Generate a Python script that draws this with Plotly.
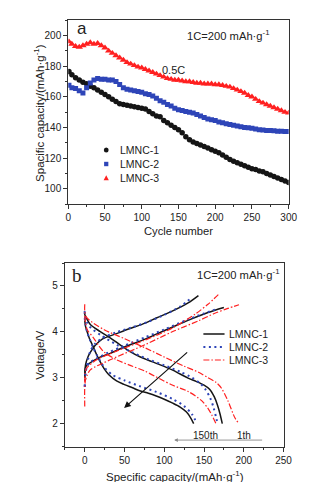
import plotly.graph_objects as go

# ---------------- Panel a data ----------------
cycles = [1] + list(range(5, 301, 5))
lmnc1_cap = [176.5, 174.5, 172.5, 171, 169.5, 168.5, 167, 166, 164.5, 163, 161.5, 160, 158.5, 157, 155.5,
             155, 154.5, 154, 153.5, 153, 152.5, 152, 150.5, 149, 147.5, 147, 144.5, 143, 141.5, 140,
             138.5, 136.5, 134, 132, 130.5, 129.5, 128.5, 127.5, 126.5, 125.5, 124.5, 123.5, 122, 120.5,
             119, 118, 117, 116, 115, 114, 113, 112.5, 111.5, 111, 110, 109, 108, 107, 106, 105, 104]
lmnc2_cap = [167.5, 166, 165.5, 164, 162.5, 166, 169, 171, 172, 171.5, 171.5, 171, 171, 170, 168, 166,
             165, 164.5, 164, 163.5, 163, 162, 161.5, 160.5, 159, 157.5, 156.5, 155, 154, 152.5, 151.5,
             151, 150.5, 150, 149.5, 148.5, 147.5, 146.5, 145.5, 145, 144.5, 143.5, 143, 142.5, 142,
             141.5, 141, 140.5, 140, 139.8, 139.5, 139, 138.5, 138.3, 138, 138, 137.8, 137.6, 137.5,
             137.4, 137.3]
lmnc3_cap = [196, 194.5, 193, 192.5, 193.5, 194.5, 195.5, 194.5, 195, 193.5, 192, 190, 188.5, 187, 185.5,
             184, 182.5, 181.5, 180.5, 179.5, 179, 178, 177, 176, 175, 174, 173, 172, 171.5, 171, 171,
             170.5, 170, 170, 169.5, 169, 169, 168.5, 168.5, 168.5, 168, 168, 167.5, 167, 166.5, 165.5,
             164.5, 163.5, 162.5, 161, 160, 158.5, 157, 156, 155, 154, 153, 152, 151, 150, 149.5]
series_names = ["LMNC-1", "LMNC-2", "LMNC-3"]

# ---------------- Panel b data (capacity, voltage) ----------------
l1_chg_a_x = [0, 1, 4, 7, 13, 22, 40, 55, 76, 90, 110, 130, 143]
l1_chg_a_y = [3.0, 3.28, 3.45, 3.55, 3.7, 3.84, 3.96, 4.06, 4.19, 4.30, 4.45, 4.63, 4.79]
l1_chg_b_x = [0, 1, 3, 10, 20, 32, 50, 76, 90, 110, 130, 155, 175]
l1_chg_b_y = [3.0, 3.22, 3.28, 3.36, 3.45, 3.53, 3.67, 3.84, 3.95, 4.1, 4.25, 4.42, 4.53]
l1_dis_1_x = [0, 0, 2, 7, 19, 32, 44, 56, 70, 80, 95, 110, 120, 130, 140, 150, 157, 163, 167, 170, 173]
l1_dis_1_y = [4.42, 4.38, 4.3, 4.16, 4.01, 3.87, 3.72, 3.58, 3.45, 3.38, 3.28, 3.17, 3.08, 2.99, 2.92,
              2.84, 2.75, 2.58, 2.4, 2.22, 2.0]
l1_dis_150_x = [0, 1, 3, 6, 10, 15, 20, 25, 30, 40, 50, 60, 70, 80, 90, 100, 110, 120, 128, 133, 137]
l1_dis_150_y = [4.25, 4.12, 4.0, 3.85, 3.7, 3.5, 3.33, 3.18, 3.07, 2.93, 2.85, 2.78, 2.71, 2.66, 2.6,
                2.53, 2.45, 2.36, 2.25, 2.13, 2.0]

l2_chg_a_x = [0, 1, 3, 7, 13, 23, 40, 60, 80, 100, 120, 135]
l2_chg_a_y = [2.8, 3.1, 3.3, 3.58, 3.74, 3.87, 3.99, 4.1, 4.22, 4.37, 4.55, 4.75]
l2_chg_b_x = [0, 1, 3, 8, 15, 30, 50, 76, 100, 130, 150, 165]
l2_chg_b_y = [2.8, 3.1, 3.25, 3.35, 3.42, 3.55, 3.7, 3.88, 4.05, 4.27, 4.4, 4.49]
l2_dis_1_x = [0, 0, 3, 8, 20, 40, 60, 80, 100, 120, 135, 145, 152, 158, 162, 165, 167]
l2_dis_1_y = [4.45, 4.35, 4.2, 4.08, 3.93, 3.72, 3.55, 3.4, 3.27, 3.13, 3.0, 2.88, 2.74, 2.55, 2.35,
              2.15, 2.0]
l2_dis_150_x = [0, 1, 3, 6, 10, 15, 25, 35, 50, 70, 90, 110, 125, 135, 141]
l2_dis_150_y = [4.3, 4.15, 4.0, 3.85, 3.68, 3.5, 3.22, 3.06, 2.94, 2.81, 2.69, 2.54, 2.38, 2.2, 2.0]

l3_chg_a_x = [0, 0.5, 2, 15, 40, 76, 110, 140, 155, 168]
l3_chg_a_y = [2.9, 3.1, 3.2, 3.39, 3.58, 3.82, 4.08, 4.4, 4.6, 4.81]
l3_chg_b_x = [0, 0, 1, 3, 7, 32, 76, 110, 143, 163, 180, 194]
l3_chg_b_y = [2.37, 2.8, 2.95, 3.05, 3.17, 3.39, 3.72, 4.0, 4.24, 4.4, 4.51, 4.59]
l3_dis_1_x = [0, 0, 2, 10, 25, 50, 76, 100, 125, 143, 155, 165, 172, 180, 189, 194]
l3_dis_1_y = [4.6, 4.45, 4.32, 4.2, 4.04, 3.85, 3.65, 3.45, 3.25, 3.12, 3.0, 2.9, 2.77, 2.5, 2.12, 2.0]
l3_dis_150_x = [0, 1, 3, 11, 23, 40, 60, 76, 95, 110, 130, 147, 155, 160, 165]
l3_dis_150_y = [4.35, 4.2, 4.05, 3.87, 3.58, 3.39, 3.25, 3.14, 2.97, 2.84, 2.7, 2.5, 2.33, 2.18, 2.0]

W, H = 315, 482
FONT = "Liberation Sans, Arial, sans-serif"
TXT = "#222222"
BLACK = "#151515"
BLUE = "#2e45b8"
RED = "#ff2020"


def px(x):
    return x / W


def py(y):
    return 1 - y / H


fig = go.Figure()

# panel a scatter
marker_specs = [(lmnc1_cap, BLACK, "circle", 5.5),
                (lmnc2_cap, BLUE, "square", 5),
                (lmnc3_cap, RED, "triangle-up", 6.5)]
for name, (vals, col, sym, sz) in zip(series_names, marker_specs):
    fig.add_trace(go.Scatter(x=cycles, y=vals, mode="markers", name=name, showlegend=False,
                             marker=dict(color=col, symbol=sym, size=sz, line=dict(width=0)),
                             xaxis="x", yaxis="y"))

# panel b lines
line_styles = {
    "LMNC-1": dict(color=BLACK, width=1.5, dash="solid"),
    "LMNC-2": dict(color=BLUE, width=2, dash="2px,3.5px"),
    "LMNC-3": dict(color=RED, width=1.2, dash="6px,2px,1.5px,2px"),
}
curves = [
    ("LMNC-1", l1_chg_a_x, l1_chg_a_y), ("LMNC-1", l1_chg_b_x, l1_chg_b_y),
    ("LMNC-1", l1_dis_1_x, l1_dis_1_y), ("LMNC-1", l1_dis_150_x, l1_dis_150_y),
    ("LMNC-2", l2_chg_a_x, l2_chg_a_y), ("LMNC-2", l2_chg_b_x, l2_chg_b_y),
    ("LMNC-2", l2_dis_1_x, l2_dis_1_y), ("LMNC-2", l2_dis_150_x, l2_dis_150_y),
    ("LMNC-3", l3_chg_a_x, l3_chg_a_y), ("LMNC-3", l3_chg_b_x, l3_chg_b_y),
    ("LMNC-3", l3_dis_1_x, l3_dis_1_y), ("LMNC-3", l3_dis_150_x, l3_dis_150_y),
]
for name, xs, ys in curves:
    fig.add_trace(go.Scatter(x=xs, y=ys, mode="lines", name=name, showlegend=False,
                             line=dict(shape="spline", smoothing=0.8, **line_styles[name]),
                             xaxis="x2", yaxis="y2"))

axis_common = dict(showline=True, mirror=True, linecolor="#333333", linewidth=1,
                   ticks="outside", ticklen=4, tickwidth=1, tickcolor="#333333",
                   showgrid=False, zeroline=False,
                   tickfont=dict(family=FONT, size=10, color=TXT))

fig.update_layout(
    width=W, height=H, margin=dict(l=0, r=0, t=0, b=0),
    paper_bgcolor="white", plot_bgcolor="white", showlegend=False,
    xaxis=dict(domain=[px(59.5), px(288.7)], range=[0, 300], dtick=50, anchor="y",
               minor=dict(dtick=25, ticks="outside", ticklen=2, tickcolor="#333333"), **axis_common),
    yaxis=dict(domain=[py(196), py(12.3)], range=[90, 210], tickvals=[100, 120, 140, 160, 180, 200],
               anchor="x", minor=dict(dtick=10, ticks="outside", ticklen=2, tickcolor="#333333"),
               **axis_common),
    xaxis2=dict(domain=[px(56), px(283.3)], range=[-25, 250], dtick=50, anchor="y2",
                minor=dict(dtick=25, ticks="outside", ticklen=2, tickcolor="#333333"), **axis_common),
    yaxis2=dict(domain=[py(438.5), py(255)], range=[1.5, 5.5], dtick=1, anchor="x2",
                minor=dict(dtick=0.5, ticks="outside", ticklen=2, tickcolor="#333333"), **axis_common),
)

ann = []


def text(x, y, s, size=10.5, xanchor="center", angle=0, family=FONT, color=TXT):
    ann.append(dict(x=px(x), y=py(y), xref="paper", yref="paper", text=s, showarrow=False,
                    xanchor=xanchor, yanchor="middle", textangle=angle,
                    font=dict(family=family, size=size, color=color)))


# panel a texts
text(67, 21, "a", size=17, xanchor="left")
text(226, 27, "1C=200 mAh·g<sup>-1</sup>", size=11.2)
text(168.5, 62, "0.5C", size=11)
text(174.5, 223, "Cycle number", size=11.2)
text(29, 105, "Spacific capacity/(mAh·g<sup>-1</sup>)", size=11.5, angle=-90)
# panel b texts
text(61, 267, "b", size=19, xanchor="left", family="Liberation Serif, Times New Roman, serif")
text(236, 266, "1C=200 mAh·g<sup>-1</sup>", size=11.2)
text(30, 347, "Voltage/V", size=11.5, angle=-90)
text(170, 468, "Specific capacity/(mAh·g<sup>-1</sup>)", size=11.5)

# legend a (manual)
shapes = []
leg_rows_a = [142, 156, 170]
for (name, y) in zip(series_names, leg_rows_a):
    text(111.5, y, name, size=10.5, xanchor="left")
shapes.append(dict(type="circle", xref="paper", yref="paper", x0=px(96.5), x1=px(101.5),
                   y0=py(144.5), y1=py(139.5), fillcolor=BLACK, line=dict(width=0)))
shapes.append(dict(type="rect", xref="paper", yref="paper", x0=px(96.8), x1=px(101.2),
                   y0=py(158.2), y1=py(153.8), fillcolor=BLUE, line=dict(width=0)))
shapes.append(dict(type="path", xref="paper", yref="paper",
                   path=f"M {px(96.3)} {py(172.3)} L {px(101.7)} {py(172.3)} L {px(99)} {py(167.3)} Z",
                   fillcolor=RED, line=dict(width=0)))

# legend b (manual)
leg_rows_b = [326, 339, 352]
for (name, y) in zip(series_names, leg_rows_b):
    st = line_styles[name]
    shapes.append(dict(type="line", xref="paper", yref="paper", x0=px(200), x1=px(222),
                       y0=py(y), y1=py(y), line=dict(color=st["color"], width=st["width"], dash=st["dash"])))
    text(224.5, y, name, size=10.5, xanchor="left")

# arrows in panel b
ann.append(dict(x=49.5, y=2.34, ax=130.7, ay=3.58, xref="x2", yref="y2", axref="x2", ayref="y2",
                showarrow=True, arrowhead=2, arrowsize=1.1, arrowwidth=1.2, arrowcolor="#111111", text=""))
ann.append(dict(x=112.5, y=1.64, ax=225, ay=1.64, xref="x2", yref="y2", axref="x2", ayref="y2",
                showarrow=True, arrowhead=2, arrowsize=0.8, arrowwidth=0.9, arrowcolor="#888888", text=""))
ann.append(dict(x=152, y=1.75, xref="x2", yref="y2", text="150th", showarrow=False,
                font=dict(family=FONT, size=10, color=TXT)))
ann.append(dict(x=200.7, y=1.75, xref="x2", yref="y2", text="1th", showarrow=False,
                font=dict(family=FONT, size=10, color=TXT)))

fig.update_layout(annotations=ann, shapes=shapes)
fig.write_html("out.html")
